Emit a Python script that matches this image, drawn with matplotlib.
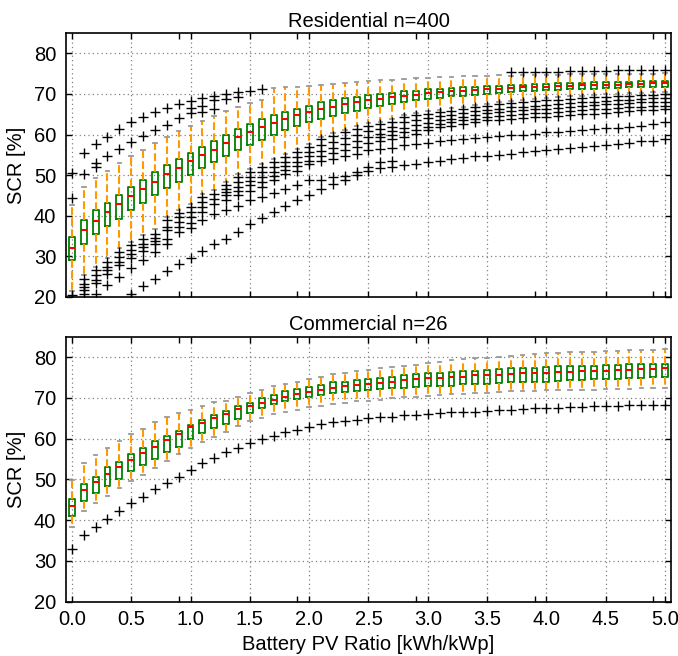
import matplotlib
matplotlib.use("Agg")
import matplotlib.pyplot as plt
import numpy as np

plt.rcParams['font.family'] = ['Liberation Sans', 'DejaVu Sans']

N = None
RATIO = np.round(np.arange(0, 5.01, 0.1), 1)  # battery size per kWp, one box per step

# ---- Residential (n=400): box statistics per battery/PV ratio ----
RES_Q1 = [29.0, 33.1, 35.4, 37.4, 39.3, 41.3, 43.1, 45.0, 46.9, 48.4,
          50.1, 51.8, 53.2, 54.8, 56.3, 57.5, 58.7, 59.8, 61.0, 62.0,
          63.0, 63.8, 64.5, 65.2, 65.9, 66.5, 67.1, 67.6, 68.0, 68.4,
          68.7, 68.9, 69.4, 69.6, 69.8, 70.0, 70.2, 70.4, 70.6, 70.8,
          70.9, 71.0, 71.1, 71.2, 71.3, 71.4, 71.5, 71.6, 71.6, 71.7,
          71.8]
RES_MED = [32.0, 36.5, 38.8, 40.8, 42.9, 44.8, 46.7, 48.4, 50.2, 51.8,
           53.4, 55.0, 56.3, 57.9, 59.3, 60.6, 61.8, 62.8, 63.8, 64.7,
           65.5, 66.2, 66.9, 67.5, 68.0, 68.4, 68.8, 69.2, 69.4, 69.8,
           70.2, 70.4, 70.7, 70.8, 71.0, 71.1, 71.2, 71.4, 71.6, 71.7,
           71.8, 71.9, 72.0, 72.1, 72.2, 72.3, 72.3, 72.4, 72.5, 72.6,
           72.7]
RES_Q3 = [34.8, 39.0, 41.3, 43.2, 45.2, 47.0, 48.9, 50.7, 52.4, 54.0,
          55.5, 57.0, 58.5, 59.9, 61.3, 62.5, 63.7, 64.7, 65.6, 66.4,
          67.1, 67.9, 68.4, 68.9, 69.3, 69.8, 70.0, 70.3, 70.7, 70.8,
          71.1, 71.3, 71.5, 71.6, 71.8, 72.0, 72.0, 72.2, 72.3, 72.4,
          72.5, 72.6, 72.7, 72.8, 72.9, 72.9, 73.0, 73.0, 73.1, 73.2,
          73.3]
RES_LO = [21.5, 25.5, 27.5, 29.5, 32.0, 33.5, 35.2, 36.8, 39.8, 41.5,
          43.0, 45.3, 46.4, 48.3, 50.2, 51.5, 52.8, 54.0, 55.2, 56.4,
          57.6, 59.5, 60.3, 61.2, 62.0, 62.8, 63.2, 63.7, 64.8, 65.3,
          65.7, 66.1, 66.5, 66.9, 67.3, 67.6, 67.9, 68.2, 68.5, 68.8,
          69.0, 69.2, 69.4, 69.5, 69.7, 69.9, 70.0, 70.2, 70.3, 70.4,
          70.5]
RES_HI = [42.6, 47.2, 49.3, 51.1, 53.0, 54.6, 56.3, 57.8, 59.4, 60.8,
          62.2, 63.4, 64.6, 65.8, 66.8, 67.7, 68.6, 71.5, 71.6, 71.8,
          72.0, 72.3, 72.5, 72.7, 72.9, 73.1, 73.4, 73.5, 73.6, 73.8,
          73.9, 74.1, 74.2, 74.3, 74.4, 74.5, 74.6, 74.5, 74.6, 74.6,
          74.7, 74.7, 74.8, 74.8, 74.9, 74.9, 74.9, 75.0, 75.0, 75.0,
          75.1]

# outlying households, one list per household (None = inside the whiskers)
RES_OUT_HIGH_A = [50.5, 55.5, 57.7, 59.5, 61.4, 63.1, 64.4, 65.6, 66.6, 67.5,
                  68.3, 68.9, 69.5, 70.0, 70.5, 70.8, 71.1, N, N, N,
                  N, N, N, N, N, N, N, N, N, N,
                  N, N, N, N, N, N, N, 75.3, 75.4, 75.4,
                  75.5, 75.5, 75.6, 75.6, 75.7, 75.7, 75.8, 75.8, 75.9, 75.9,
                  76.0]
RES_OUT_HIGH_B = [44.4, 50.2, 53.0, 54.6, 56.5, 58.1, 59.7, 61.1, 62.4, 64.1,
                  66.6, 67.1, 68.4, 68.8, 69.3] + [N] * 36
RES_OUT_HIGH_C = [N, N, 52.1] + [N] * 7 + [65.2, 65.5, 66.2] + [N] * 38
RES_OUT_LOW_A = [N] * 5 + [
    20.8, 22.6, 24.5, 26.4, 28.2, 29.7, 31.3, 33.1, 34.3, 36.1,
    38.0, 39.4, 40.9, 42.4, 43.8, 45.2, 46.6, 47.7, 48.9, 50.0,
    51.1, 51.8, 52.1, 52.5, 52.8, 53.2, 53.4, 54.0, 54.3, 54.6,
    54.8, 55.0, 55.2, 55.6, 56.0, 56.2, 56.5, 56.7, 57.0, 57.2,
    57.5, 57.7, 58.0, 58.3, 58.5, 58.9]
RES_OUT_LOW_B = [20.4, 20.8, 20.8, 22.9, 24.9, 27.2, 29.2, 31.1, 33.1, 36.0,
                 37.0, 38.9, 40.5, 41.3, 42.5, 43.8, 44.7, 45.6, 46.6, 47.5,
                 48.7, 48.9, 49.5, 49.8, 50.8, 52.0, 53.2, 53.5] + [N] * 23
RES_OUT_LOW_C = [N, 21.6, 23.4, 25.6, 27.8, 29.7, 31.3, 33.0, 34.3, 37.2,
                 38.2, 40.9, 42.9, 43.8, 45.0, 46.2, 47.0, 48.7, 50.3, 51.1,
                 52.8, 53.6, 54.0, 54.8, 55.2, 56.1, 56.5, 56.7, 57.3, 57.7,
                 58.0, 58.3, 58.7, 59.0, 59.2, 59.4, 59.6, 59.8, 60.0, 60.2,
                 60.5, 60.7, 60.9, 61.1, 61.3, 61.5, 61.7, 61.9, 62.2, 62.5,
                 63.0]
RES_OUT_BAND_1 = [N, 24.5, 26.6, 28.6, 31.1, 32.7, 34.3, 35.6, 38.9, 40.7,
                  42.1, 44.6, 45.4, 47.5, 49.5, 50.7, 52.0, 53.2, 54.4, 55.7,
                  56.9, 58.9, 59.7, 60.6, 61.4, 62.2, 62.5, 63.0, 64.3, 64.7,
                  65.1, 65.5, 65.9, 66.3, 66.7, 67.1, 67.4, 67.7, 67.9, 68.2,
                  68.4, 68.5, 68.8, 68.9, 69.2, 69.3, 69.5, 69.6, 69.8, 69.8,
                  70.0]
RES_OUT_BAND_2 = [N, 23.3, 25.3, 27.4, 29.8, 31.5, 33.1, 34.6, 37.2, 39.7,
                  40.9, 43.4, 44.2, 46.6, 48.2, 49.6, 50.8, 52.0, 53.3, 54.4,
                  55.6, 57.4, 58.2, 59.1, 59.9, 60.8, 61.3, 61.9, 63.0, 63.6,
                  64.0, 64.5, 64.9, 65.3, 65.7, 66.1, 66.4, 66.7, 66.9, 67.1,
                  67.3, 67.5, 67.7, 67.9, 68.1, 68.3, 68.4, 68.6, 68.8, 68.9,
                  69.0]
RES_OUT_BAND_3 = [N, 22.5, 24.3, 26.6, 28.6, 30.5, 32.3, 33.8, 36.4, 38.4,
                  39.7, 42.1, N, 45.8, 47.0, 48.5, 49.5, 50.8, 52.2, 53.3,
                  54.6, 56.0, 56.8, 57.6, 58.5, 59.4, 60.2, 60.8, 61.6, 62.3,
                  62.9, 63.5, 63.9, 64.4, 64.8, 65.2, 65.5, 65.8, 66.0, 66.2,
                  66.4, 66.6, 66.8, 67.0, 67.2, 67.4, 67.5, 67.7, 67.9, 68.0,
                  68.1]
RES_OUT_BAND_4 = [N] * 13 + [
    45.0, 46.0, 47.6, 48.3, 49.7, 51.2, 52.2,
    53.6, 54.8, 55.4, 56.2, 57.0, 57.8, 58.5, 58.9, 59.5, 60.2,
    61.0, 61.8, 62.2, 62.6, 63.0, 63.5, 63.6, 63.9, 64.1, 64.2,
    64.4, 64.5, 64.7, 65.0, 65.1, 65.3, 65.6, 65.7, 66.0, 66.1,
    66.2]
RES_OUT_BAND_5 = [N] * 26 + [
    59.4, 59.9, 60.6, 61.2,
    61.9, 62.6, 63.0, 63.5, 63.9, 64.3, 64.6, 64.8, 65.0, 65.2,
    65.4, 65.6, 65.8, 66.0, 66.2, 66.3, 66.5, 66.7, 66.9, 67.0,
    67.1]

# ---- Commercial (n=26) ----
COM_Q1 = [41.0, 44.7, 46.6, 48.4, 50.2, 52.0, 53.5, 55.0, 56.6, 58.0,
          59.8, 61.3, 62.5, 63.6, 64.8, 66.2, 67.5, 68.4, 69.1, 69.8,
          70.3, 70.7, 71.1, 71.4, 71.7, 72.0, 72.1, 72.3, 72.5, 72.7,
          72.8, 73.0, 73.0, 73.3, 73.4, 73.5, 73.6, 73.8, 73.9, 74.0,
          74.0, 74.2, 74.3, 74.3, 74.5, 74.6, 74.7, 74.8, 74.9, 75.0,
          75.2]
COM_MED = [43.5, 47.4, 49.4, 51.2, 53.0, 54.7, 56.4, 58.0, 59.6, 61.2,
           62.8, 63.9, 65.0, 66.1, 67.2, 68.1, 68.7, 69.5, 70.2, 70.9,
           71.4, 72.0, 72.5, 72.8, 73.2, 73.4, 73.7, 74.0, 74.3, 74.7,
           74.8, 74.9, 75.1, 75.2, 75.5, 75.6, 75.7, 75.9, 76.0, 76.1,
           76.2, 76.3, 76.4, 76.5, 76.6, 76.7, 76.8, 76.9, 77.0, 77.1,
           77.2]
COM_Q3 = [45.1, 48.9, 50.7, 53.0, 54.3, 56.1, 57.6, 59.3, 60.7, 61.9,
          63.4, 64.6, 65.8, 66.8, 67.9, 68.7, 69.9, 70.7, 71.6, 72.2,
          72.6, 73.2, 73.8, 74.0, 74.4, 74.7, 74.8, 75.2, 75.5, 75.9,
          76.1, 76.2, 76.4, 76.6, 76.7, 76.9, 77.0, 77.2, 77.4, 77.4,
          77.5, 77.7, 77.8, 77.9, 77.9, 78.0, 78.1, 78.2, 78.3, 78.4,
          78.4]
COM_LO = [38.4, 42.2, 44.1, 46.0, 47.8, 49.7, 51.1, 52.9, 54.5, 56.1,
          57.6, 59.1, 60.5, 61.5, 63.0, 64.2, 65.0, 66.1, 66.6, 67.0,
          67.7, 68.1, 68.4, 68.7, 69.1, 69.3, 69.5, 69.9, 70.1, 70.3,
          70.5, 70.6, 70.9, 70.9, 71.1, 71.2, 71.4, 71.6, 71.6, 71.7,
          71.8, 71.9, 72.0, 72.0, 72.0, 72.1, 72.2, 72.2, 72.3, 72.3,
          72.3]
COM_HI = [49.8, 54.1, 56.0, 57.8, 59.4, 61.1, 62.3, 64.0, 65.2, 66.2,
          67.0, 68.1, 68.9, 69.3, 70.3, 71.1, 72.0, 72.8, 73.4, 74.0,
          74.7, 75.2, 75.8, 76.1, 76.5, 76.9, 77.3, 77.6, 77.9, 78.1,
          78.5, 78.9, 79.2, 79.4, 79.7, 79.8, 80.1, 80.3, 80.6, 80.7,
          81.0, 81.0, 81.2, 81.3, 81.3, 81.5, 81.6, 81.7, 81.8, 81.8,
          82.0]
COM_OUT_LOW = [32.8, 36.3, 38.4, 40.4, 42.3, 44.1, 45.7, 47.6, 49.2, 50.7,
               52.3, 53.9, 55.2, 56.6, 57.6, 58.9, 59.8, 60.7, 61.5, 62.1,
               62.8, 63.5, 64.0, 64.3, 64.6, 65.0, 65.2, 65.4, 65.7, 65.8,
               66.0, 66.2, 66.4, 66.5, 66.6, 66.8, 66.9, 67.0, 67.2, 67.4,
               67.5, 67.6, 67.7, 67.8, 67.9, 68.0, 68.1, 68.2, 68.2, 68.3,
               68.3]


def collect_stats(q1, med, q3, lo, hi, outliers):
    stats = []
    for i in range(len(med)):
        fl = [o[i] for o in outliers if o[i] is not None]
        stats.append(dict(q1=q1[i], med=med[i], q3=q3[i],
                          whislo=lo[i], whishi=hi[i], fliers=fl))
    return stats


def draw_panel(ax, stats, title):
    ax.bxp(stats, positions=RATIO, widths=0.05, capwidths=0.03,
           manage_ticks=False,
           boxprops=dict(color="green", linewidth=1.3),
           medianprops=dict(color="red", linewidth=1.5),
           whiskerprops=dict(color="#ff9900", linestyle="--", linewidth=1.5),
           capprops=dict(color="#999999", linewidth=1.3),
           flierprops=dict(marker="+", markeredgecolor="black",
                           markersize=6.5, markeredgewidth=1.0,
                           linestyle="none"))
    ax.set_xlim(-0.05, 5.05)
    ax.set_ylim(20, 85)
    ax.set_yticks(range(20, 81, 10))
    ax.set_xticks(np.arange(0, 5.01, 0.5))
    ax.set_xticks([0.9, 1.9, 2.9, 3.9, 4.9], minor=True)
    ax.xaxis.set_major_formatter(matplotlib.ticker.FormatStrFormatter("%.1f"))
    ax.grid(True, which="major", linestyle=(0, (1, 2.5)), color="#808080",
            linewidth=0.9)
    ax.set_axisbelow(True)
    ax.tick_params(which="both", direction="in", top=True, right=True,
                   length=4.5, width=1, labelsize=14.5)
    ax.tick_params(axis="y", pad=7)
    ax.tick_params(axis="x", pad=6)
    for sp in ax.spines.values():
        sp.set_linewidth(1.2)
    ax.set_title(title, fontsize=14.5, pad=4.5)
    ax.set_ylabel("SCR [%]", fontsize=14.5, labelpad=6)


fig = plt.figure(figsize=(6.78, 6.56), dpi=100)
ax1 = fig.add_axes([0.0973, 0.5473, 0.8923, 0.4024])
ax2 = fig.add_axes([0.0973, 0.0828, 0.8923, 0.404])

res_stats = collect_stats(RES_Q1, RES_MED, RES_Q3, RES_LO, RES_HI,
                          [RES_OUT_HIGH_A, RES_OUT_HIGH_B, RES_OUT_HIGH_C,
                           RES_OUT_LOW_A, RES_OUT_LOW_B, RES_OUT_LOW_C,
                           RES_OUT_BAND_1, RES_OUT_BAND_2, RES_OUT_BAND_3,
                           RES_OUT_BAND_4, RES_OUT_BAND_5])
com_stats = collect_stats(COM_Q1, COM_MED, COM_Q3, COM_LO, COM_HI,
                          [COM_OUT_LOW])

draw_panel(ax1, res_stats, "Residential n=400")
draw_panel(ax2, com_stats, "Commercial n=26")
ax1.tick_params(labelbottom=False)
ax2.set_xlabel("Battery PV Ratio [kWh/kWp]", fontsize=14.5)

fig.savefig("out.png", dpi=100)
